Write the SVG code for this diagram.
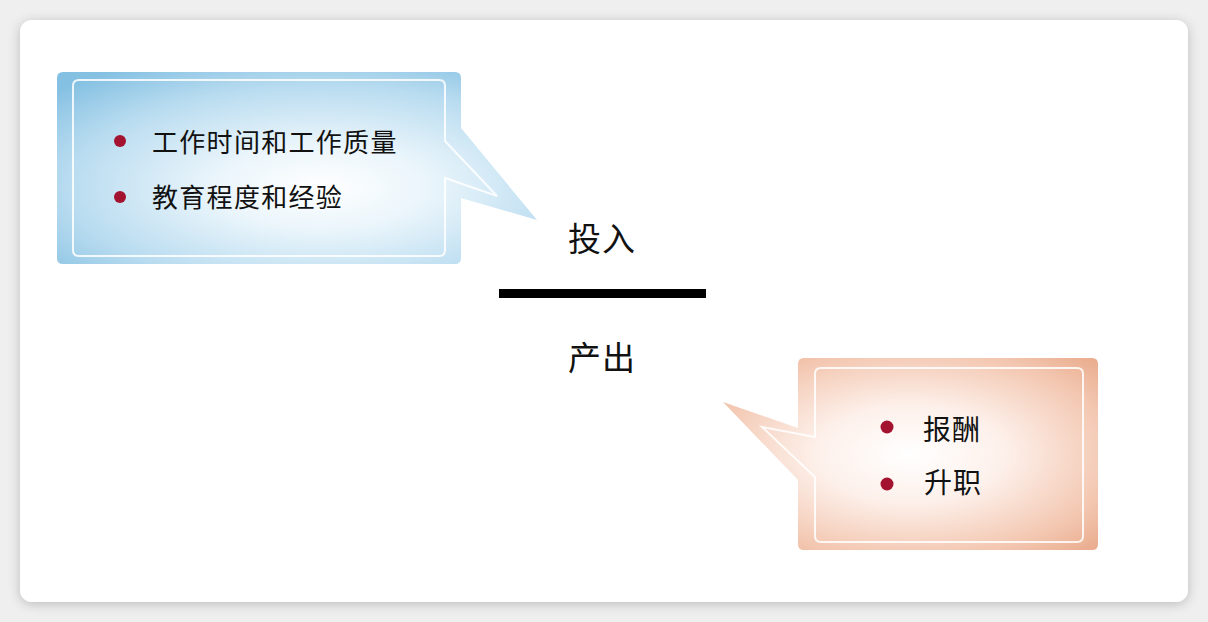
<svg xmlns="http://www.w3.org/2000/svg" width="1208" height="622" viewBox="0 0 1208 622">
  <defs>
    <style>
      .t { font-family: "Noto Sans CJK SC", "Noto Sans", sans-serif; fill: #111111; font-weight: 400; }
      .item { font-size: 26px; letter-spacing: 1.3px; }
      .big { font-size: 33px; text-anchor: middle; letter-spacing: 1px; }
      .bullet { fill: #a3122e; }
      .inner { fill: none; stroke: #ffffff; stroke-width: 2; stroke-opacity: 0.85; }
    </style>
    <radialGradient id="blueFill" cx="0.55" cy="0.6" r="0.75">
      <stop offset="0" stop-color="#ffffff"/>
      <stop offset="0.3" stop-color="#eaf5fb"/>
      <stop offset="0.7" stop-color="#b9dcf0"/>
      <stop offset="1" stop-color="#84c0e2"/>
    </radialGradient>
    <radialGradient id="orangeFill" cx="0.5" cy="0.5" r="0.72">
      <stop offset="0" stop-color="#ffffff"/>
      <stop offset="0.35" stop-color="#fdf0ea"/>
      <stop offset="0.75" stop-color="#f3c7b1"/>
      <stop offset="1" stop-color="#e8a888"/>
    </radialGradient>
    <filter id="cardShadow" x="-5%" y="-5%" width="110%" height="110%">
      <feDropShadow dx="0" dy="2" stdDeviation="6" flood-color="#000000" flood-opacity="0.22"/>
    </filter>
  </defs>

  <rect x="0" y="0" width="1208" height="622" fill="#efefef"/>
  <rect x="20" y="20" width="1168" height="582" rx="12" fill="#ffffff" filter="url(#cardShadow)"/>

  <g id="node-input-bubble">
    <path d="M63,72 H455 Q461,72 461,78 V128 L537,220 L461,198 V258 Q461,264 455,264 H63 Q57,264 57,258 V78 Q57,72 63,72 Z" fill="url(#blueFill)"/>
    <path class="inner" d="M79,80 H439 Q445,80 445,86 V141 L497,196 L445,178 V250 Q445,256 439,256 H79 Q73,256 73,250 V86 Q73,80 79,80 Z"/>
    <circle class="bullet" cx="120" cy="141" r="6"/>
    <text class="t item" x="152" y="152">工作时间和工作质量</text>
    <circle class="bullet" cx="120" cy="197" r="6"/>
    <text class="t item" x="152" y="207">教育程度和经验</text>
  </g>

  <g id="node-output-bubble">
    <path d="M804,358 H1092 Q1098,358 1098,364 V544 Q1098,550 1092,550 H804 Q798,550 798,544 V480 L723,402 L798,428 V364 Q798,358 804,358 Z" fill="url(#orangeFill)"/>
    <path class="inner" d="M821,368 H1077 Q1083,368 1083,374 V536 Q1083,542 1077,542 H821 Q815,542 815,536 V477 L762,427 L815,437 V374 Q815,368 821,368 Z"/>
    <circle class="bullet" cx="887" cy="427" r="6.5"/>
    <text class="t item" x="923" y="440" style="font-size:28px;letter-spacing:1px">报酬</text>
    <circle class="bullet" cx="887" cy="484" r="6.5"/>
    <text class="t item" x="924" y="493" style="font-size:28px;letter-spacing:1px">升职</text>
  </g>

  <g id="node-ratio">
    <text class="t big" x="602" y="251">投入</text>
    <rect x="499" y="289" width="207" height="9" fill="#000000"/>
    <text class="t big" x="602" y="370">产出</text>
  </g>

  <g id="connectors"></g>
</svg>
